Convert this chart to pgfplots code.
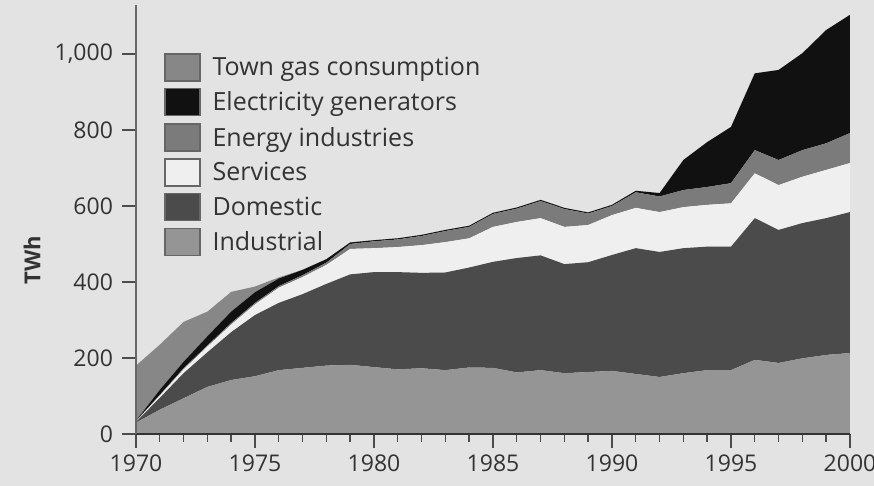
\documentclass[border=0pt]{standalone}
\usepackage{fontspec}
\setmainfont{Open Sans}
\usepackage{pgfplots}
\usepackage{pgfplotstable}
\pgfplotsset{compat=1.18}

\definecolor{bg}{HTML}{E3E3E3}
\definecolor{cind}{HTML}{959595}
\definecolor{cdom}{HTML}{4B4B4B}
\definecolor{cserv}{HTML}{EFEFEF}
\definecolor{cen}{HTML}{7B7B7B}
\definecolor{cel}{HTML}{111111}
\definecolor{ctown}{HTML}{878787}
\definecolor{txt}{HTML}{333333}

% gas use by sector, TWh (stacked: industrial at the bottom)
\pgfplotstableread{
year ind dom serv en el town
1970 30 2 1 1 1 145
1971 64 31 6 2 13 119
1972 94 66 10 3 17 105
1973 124 91 15 3 24 65
1974 142 126 20 4 30 52
1975 152 161 28 4 28 15
1976 168 177 40 4 20 3
1977 174 194 45 5 14 0
1978 180 215 50 6 9 0
1979 182 238 67 13 4 0
1980 176 250 63 18 3 0
1981 170 256 66 20 3 0
1982 173 251 73 24 3 0
1983 168 257 80 29 3 0
1984 175 263 77 30 3 0
1985 174 279 92 34 3 0
1986 162 301 95 35 3 0
1987 168 302 98 45 3 0
1988 160 287 98 47 3 0
1989 163 289 98 30 3 0
1990 166 305 105 24 3 0
1991 158 331 106 41 4 0
1992 150 329 105 41 9 0
1993 160 329 108 45 79 0
1994 168 325 110 47 118 0
1995 168 325 114 53 148 0
1996 195 373 118 61 202 0
1997 187 350 118 66 237 0
1998 199 356 122 70 255 0
1999 208 360 127 70 298 0
2000 213 371 129 79 311 0
}\gasdata

\begin{document}
\begin{tikzpicture}
\fill[bg] (-68pt,-26pt) rectangle (369pt,217pt);
\begin{axis}[
  at={(0,0)}, anchor=south west,
  scale only axis,
  width=357pt, height=214.7pt,
  xmin=1970, xmax=2000, ymin=0, ymax=1130,
  axis lines*=left,
  stack plots=y,
  area style,
  xtick={1970,1975,...,2000},
  minor x tick num=4,
  ytick={0,200,...,1000},
  tick align=outside,
  major tick length=7pt,
  minor tick length=4pt,
  x axis line style={line width=1.1pt, color=txt},
  y axis line style={line width=0.8pt, color=black!60},
  every tick/.style={line width=0.7pt, color=black!70},
  /pgf/number format/assume math mode=true,
  xticklabel style={/pgf/number format/1000 sep={}, font=\fontsize{11.5}{13}\selectfont, text=txt},
  yticklabel style={/pgf/number format/1000 sep={,}, font=\fontsize{11.5}{13}\selectfont, text=txt, xshift=-1pt},
  ylabel={\bfseries TWh},
  every axis y label/.style={at={(axis description cs:-0.1457,0.405)}, rotate=90, anchor=center, font=\fontsize{11}{13}\selectfont, text=txt},
  reverse legend,
  legend cell align=left,
  legend style={at={(0.0392,0.8875)}, anchor=north west, draw=none, fill=none,
    font=\fontsize{12.5}{14}\selectfont, text=txt, row sep=2.6pt, inner sep=0pt,
    /tikz/every odd column/.append style={column sep=4pt}},
  legend image code/.code={\draw[#1, draw=black!60, line width=0.6pt] (0pt,-6.5pt) rectangle (17.5pt,7pt);},
]
\addplot[fill=cind, draw=none] table[x=year, y=ind] {\gasdata} \closedcycle;
\addlegendentry{Industrial}
\addplot[fill=cdom, draw=none] table[x=year, y=dom] {\gasdata} \closedcycle;
\addlegendentry{Domestic}
\addplot[fill=cserv, draw=none] table[x=year, y=serv] {\gasdata} \closedcycle;
\addlegendentry{Services}
\addplot[fill=cen, draw=none] table[x=year, y=en] {\gasdata} \closedcycle;
\addlegendentry{Energy industries}
\addplot[fill=cel, draw=none] table[x=year, y=el] {\gasdata} \closedcycle;
\addlegendentry{Electricity generators}
\addplot[fill=ctown, draw=none] table[x=year, y=town] {\gasdata} \closedcycle;
\addlegendentry{Town gas consumption}
\end{axis}
\pgfresetboundingbox
\path (-68pt,-26pt) rectangle (369pt,217pt);
\end{tikzpicture}
\end{document}
